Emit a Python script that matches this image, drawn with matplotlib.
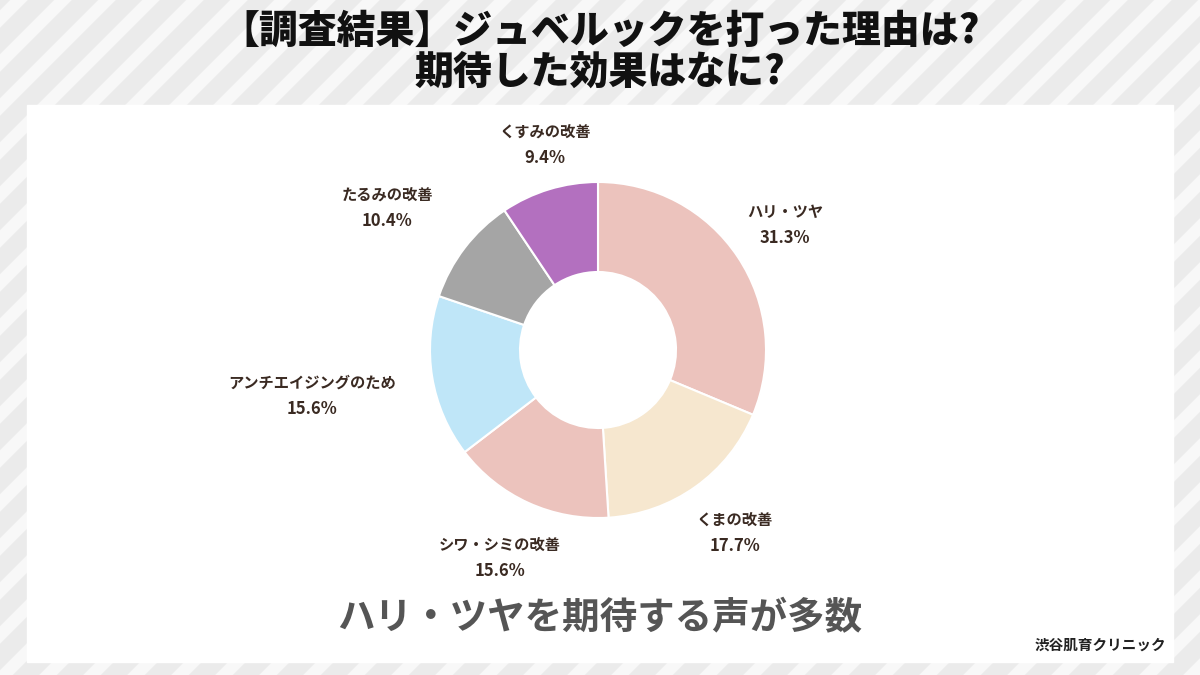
import matplotlib.pyplot as plt
from matplotlib.patches import Rectangle

plt.rcParams["font.family"] = "Noto Sans CJK JP"

TITLE = "【調査結果】ジュベルックを打った理由は?\n期待した効果はなに?"
SUBTITLE = "ハリ・ツヤを期待する声が多数"
SOURCE = "渋谷肌育クリニック"

labels = ["ハリ・ツヤ", "くまの改善", "シワ・シミの改善", "アンチエイジングのため", "たるみの改善", "くすみの改善"]
values = [31.3, 17.7, 15.6, 15.6, 10.4, 9.4]
colors = ["#ecc3bd", "#f6e7cf", "#ecc3bd", "#bfe6f8", "#a5a5a5", "#b370bf"]
# label anchor positions in pixels (x, y of name line)
label_pos = [(785, 212), (735, 520), (500, 545), (312, 383), (387, 195), (545, 132)]

W, H = 1200, 675
fig = plt.figure(figsize=(12, 6.75), dpi=100)

bg = fig.add_axes([0, 0, 1, 1])
bg.set_xlim(0, W)
bg.set_ylim(H, 0)
bg.axis("off")
bg.add_patch(Rectangle((0, 0), W, H, color="#ebebeb", zorder=0))
for x0 in range(-700, W + 100, 44):
    bg.plot([x0, x0 + H], [H, 0], color="#f8f8f8", lw=9, zorder=1)
bg.add_patch(Rectangle((27, 105), 1146, 557, color="white", zorder=2))

bg.text(600, 52, TITLE, ha="center", va="center", fontsize=28, fontweight="black",
        color="#111111", linespacing=1.1, zorder=3)
bg.text(600, 618, SUBTITLE, ha="center", va="center", fontsize=27, fontweight="bold",
        color="#555555", zorder=3)
bg.text(1100, 645, SOURCE, ha="center", va="center", fontsize=10.5, fontweight="bold",
        color="#222222", zorder=3)

for lab, v, (x, y) in zip(labels, values, label_pos):
    bg.text(x, y, lab, ha="center", va="center", fontsize=11, fontweight="bold", color="#3a2a22", zorder=3)
    bg.text(x, y + 26, f"{v}%", ha="center", va="center", fontsize=12, fontweight="bold", color="#3a2a22", zorder=3)

cx, cy, r = 598, 350, 168
ax = fig.add_axes([(cx - r) / W, 1 - (cy + r) / H, 2 * r / W, 2 * r / H])
ax.pie(values, colors=colors, startangle=90, counterclock=False,
       wedgeprops=dict(width=90 / 168, edgecolor="white", linewidth=1.5))
ax.set_xlim(-1, 1)
ax.set_ylim(-1, 1)
ax.set_aspect("equal")

fig.savefig("out.png", dpi=100)
